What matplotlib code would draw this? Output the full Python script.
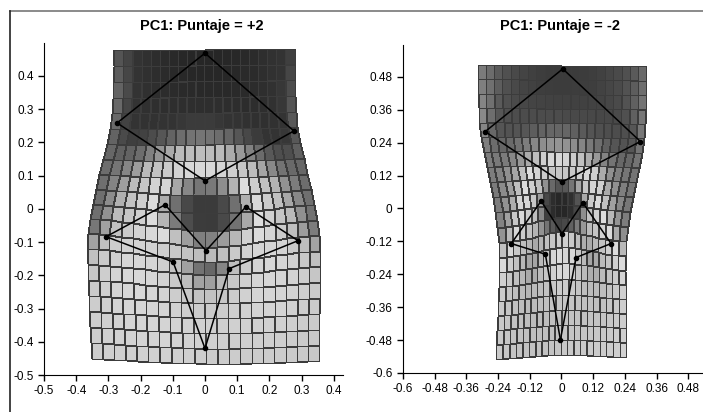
import numpy as np
import matplotlib.pyplot as plt
from matplotlib.lines import Line2D

# landmark coordinates
# order: top, left, center, right, upper-left, upper-right, far-left, far-right,
#        middle, lower-left, lower-right, bottom
pos_x = [0.0, -0.273, 0.0, 0.276, -0.124, 0.127, -0.307, 0.289, 0.003, -0.099, 0.075, 0.0]
pos_y = [0.468, 0.258, 0.084, 0.234, 0.012, 0.006, -0.084, -0.096, -0.126, -0.16, -0.18, -0.42]
neg_x = [0.005, -0.289, 0.001, 0.299, -0.077, 0.081, -0.19, 0.188, 0.002, -0.061, 0.055, -0.004]
neg_y = [0.509, 0.28, 0.096, 0.244, 0.027, 0.021, -0.128, -0.128, -0.092, -0.167, -0.179, -0.479]

links = [(0, 1), (1, 2), (2, 3), (3, 0),
         (6, 4), (4, 8), (8, 5), (5, 7), (7, 10), (10, 11), (11, 9), (9, 6)]

titles = ['PC1: Puntaje = +2', 'PC1: Puntaje = -2']
ticks_l = [-0.5, -0.4, -0.3, -0.2, -0.1, 0, 0.1, 0.2, 0.3, 0.4]
xticks_r = [-0.6, -0.48, -0.36, -0.24, -0.12, 0, 0.12, 0.24, 0.36, 0.48]
yticks_r = [-0.6, -0.48, -0.36, -0.24, -0.12, 0, 0.12, 0.24, 0.36, 0.48]

# reference grid (20 x 20 cells)
grid_x = (-0.30, 0.30)
grid_y = (-0.50, 0.50)
n_cells = 20


def U(r2):
    with np.errstate(divide='ignore', invalid='ignore'):
        out = r2 * np.log(r2)
    return np.nan_to_num(out)


def tps(src, dst, pts):
    n = len(src)
    d2 = ((src[:, None, :] - src[None, :, :]) ** 2).sum(-1)
    P = np.hstack([np.ones((n, 1)), src])
    L = np.zeros((n + 3, n + 3))
    L[:n, :n] = U(d2)
    L[:n, n:] = P
    L[n:, :n] = P.T
    rhs = np.vstack([dst, np.zeros((3, 2))])
    W = np.linalg.solve(L, rhs)
    d2p = ((pts[:, None, :] - src[None, :, :]) ** 2).sum(-1)
    Pp = np.hstack([np.ones((len(pts), 1)), pts])
    return U(d2p) @ W[:n] + Pp @ W[n:]


def quad_area(X, Y):
    x0, y0 = X[:-1, :-1], Y[:-1, :-1]
    x1, y1 = X[:-1, 1:], Y[:-1, 1:]
    x2, y2 = X[1:, 1:], Y[1:, 1:]
    x3, y3 = X[1:, :-1], Y[1:, :-1]
    return 0.5 * np.abs((x0 * y1 - x1 * y0) + (x1 * y2 - x2 * y1) +
                        (x2 * y3 - x3 * y2) + (x3 * y0 - x0 * y3))


A = np.column_stack([pos_x, pos_y])
B = np.column_stack([neg_x, neg_y])
mean = (A + B) / 2

gx, gy = np.meshgrid(np.linspace(*grid_x, n_cells + 1), np.linspace(*grid_y, n_cells + 1))
ref_pts = np.column_stack([gx.ravel(), gy.ravel()])
ref_area = quad_area(gx, gy)
jet = plt.get_cmap('jet')

fig = plt.figure(figsize=(7.03, 4.12), dpi=100)
plt.rcParams['font.family'] = 'Liberation Sans'

axes = [fig.add_axes([0.0626, 0.0898, 0.4253, 0.8058]),
        fig.add_axes([0.5733, 0.0947, 0.4267, 0.7961])]

for ax, target, title in zip(axes, [A, B], titles):
    w = tps(mean, target, ref_pts)
    X = w[:, 0].reshape(gx.shape)
    Y = w[:, 1].reshape(gy.shape)
    v = np.log(quad_area(X, Y) / ref_area)
    # expansion factor coloured with a rainbow map, printed in grey
    rgb = jet((v - v.min()) / (v.max() - v.min()))
    lum = 0.299 * rgb[..., 0] + 0.587 * rgb[..., 1] + 0.114 * rgb[..., 2]
    shade = 0.10 + 0.88 * lum
    ax.pcolormesh(X, Y, shade, cmap='gray', vmin=0, vmax=1,
                  edgecolors='#3c3c3c', linewidth=0.6)
    for i, j in links:
        ax.plot([target[i, 0], target[j, 0]], [target[i, 1], target[j, 1]],
                color='black', lw=1.1)
    ax.plot(target[:, 0], target[:, 1], 'o', color='black', ms=3)

# axes styling
for ax in axes:
    for s in ['top', 'right']:
        ax.spines[s].set_visible(False)
    ax.tick_params(direction='out', length=4, width=1, labelsize=8.5)

axes[0].set_xlim(-0.5, 0.4286)
axes[0].set_ylim(-0.5, 0.4985)
axes[0].set_xticks(ticks_l)
axes[0].set_yticks(ticks_l)
axes[0].set_xticklabels(['0' if t == 0 else f'{t:g}' for t in ticks_l])
axes[0].set_yticklabels(['0' if t == 0 else f'{t:g}' for t in ticks_l])

axes[1].set_xlim(-0.6, 0.536)
axes[1].set_ylim(-0.6, 0.596)
axes[1].set_xticks(xticks_r)
axes[1].set_yticks(yticks_r)
axes[1].set_xticklabels(['0' if t == 0 else f'{t:g}' for t in xticks_r])
axes[1].set_yticklabels(['0' if t == 0 else f'{t:g}' for t in yticks_r])

fig.text(202 / 703, 1 - 26 / 412, titles[0], ha='center', va='center',
         fontsize=10.5, fontweight='bold')
fig.text(560 / 703, 1 - 26 / 412, titles[1], ha='center', va='center',
         fontsize=10.5, fontweight='bold')

# outer frame (top and left edge)
fig.add_artist(Line2D([10 / 703, 1], [1 - 11 / 412, 1 - 11 / 412], color='#777777', lw=1.2))
fig.add_artist(Line2D([10 / 703, 10 / 703], [0, 1 - 11 / 412], color='#222222', lw=1.2))

fig.savefig('out.png', dpi=100)
